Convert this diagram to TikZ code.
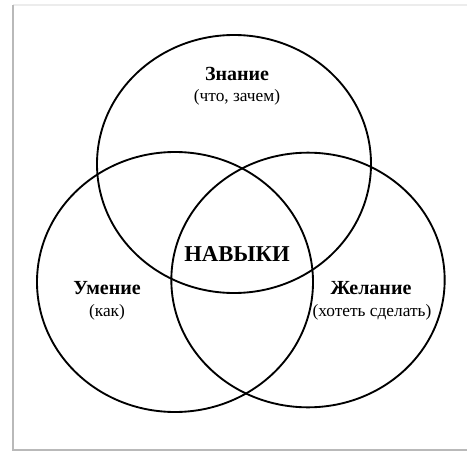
\documentclass[tikz,border=0pt]{standalone}
\usepackage{fontspec}
\setmainfont{Liberation Serif}
\usetikzlibrary{shapes.geometric}

\begin{document}
\begin{tikzpicture}[
  x=0.75pt, y=-0.75pt,
  ring/.style={draw, ellipse, line width=1.4pt, inner sep=0pt},
  title/.style={font=\fontsize{15}{17}\selectfont\bfseries},
  note/.style={font=\fontsize{13}{15}\selectfont},
  core/.style={font=\fontsize{17}{19}\selectfont\bfseries},
  edge/.style={line width=2.2pt, gray!55},
]
\useasboundingbox (0,0) rectangle (467,453);

% frame
\fill[white] (13,5) rectangle (467,450);
\draw[gray!15, line width=1pt] (13,5) -- (467,5);
\draw[edge] (13,5) -- (13,450) -- (467,450);

% circles
\node[ring, minimum width=205.5pt, minimum height=193.5pt] (znanie) at (234,164) {};
\node[ring, minimum width=207pt, minimum height=195pt] (umenie) at (175,282) {};
\node[ring, minimum width=205pt, minimum height=191pt] (zhelanie) at (308,280) {};

% labels
\node[title] (t1) at (237,74) {Знание};
\node[note] (n1) at (237,97) {(что, зачем)};
\node[core] (skills) at (237,254) {НАВЫКИ};
\node[title] (t2) at (107,288) {Умение};
\node[note] (n2) at (107,312) {(как)};
\node[title] (t3) at (371,288) {Желание};
\node[note] (n3) at (372,312) {(хотеть сделать)};

\end{tikzpicture}
\end{document}
